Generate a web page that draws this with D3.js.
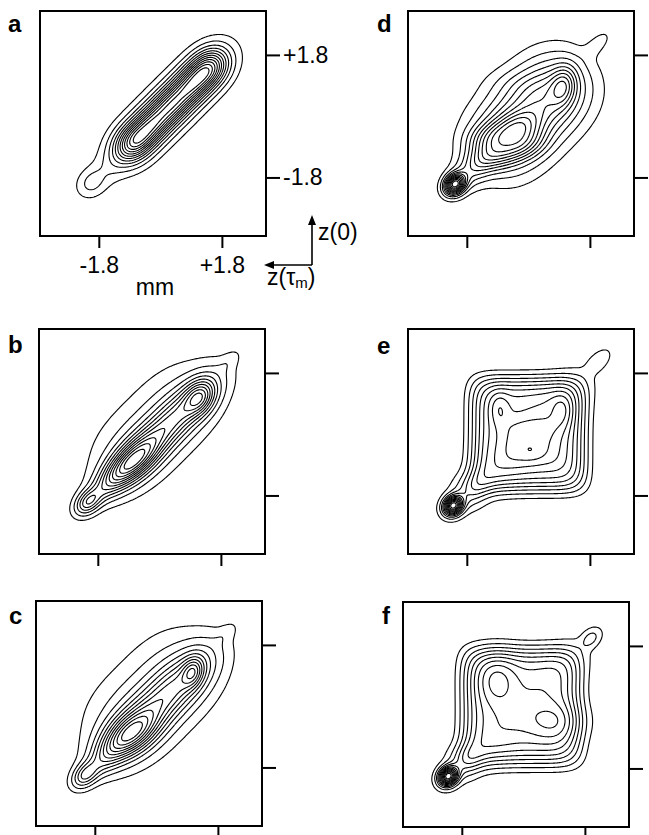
<!DOCTYPE html>
<html>
<head>
<meta charset="utf-8">
<script src="https://cdn.jsdelivr.net/npm/d3@7"></script>
<style>
  body { margin: 0; background: #fff; }
  svg { display: block; }
  text { font-family: "Liberation Sans", Arial, sans-serif; fill: #000; }
</style>
</head>
<body>
<div id="chart"></div>
<script>
// axis range (mm) shared by every panel, and the two marked positions
const axisDomain = [-3.52, 3.09];
const tickValues = [-1.8, 1.8];
const tickLabels = ["-1.8", "+1.8"];

// contour levels, as a fraction of each panel's peak
const levels = [0.05, 0.12, 0.2, 0.28, 0.36, 0.44, 0.52, 0.6, 0.68, 0.76, 0.84, 0.92];

// density peaks (mm):
// [x, y, sigma along, sigma across, angle deg, amplitude, power along, power across]
const peaksA = [
  [-0.78, -0.78, 0.45, 0.34, 45, 1.2, 2, 2],
  [-0.23, -0.23, 0.45, 0.34, 45, 1.0, 2, 2],
  [0.32, 0.32, 0.45, 0.34, 45, 1.0, 2, 2],
  [0.87, 0.87, 0.45, 0.34, 45, 1.0, 2, 2],
  [1.41, 1.41, 0.45, 0.34, 45, 1.2, 2, 2],
  [-2.03, -1.97, 0.3, 0.25, 45, 0.2, 2, 2],
  [-1.5, -1.5, 0.5, 0.3, 45, 0.12, 2, 2],
  [0.3, 0.3, 1.7, 0.55, 45, 0.12, 2, 2]
];
const peaksB = [
  [0.14, 0.14, 1.6, 0.36, 45, 0.34, 3, 2],
  [-0.1, 0.18, 1.7, 0.75, 45, 0.12, 3, 2],
  [-0.83, -0.86, 0.62, 0.3, 42, 0.33, 2, 2],
  [1.19, 1.09, 0.36, 0.27, 60, 0.25, 2, 2],
  [-1.5, -1.45, 0.5, 0.25, 45, 0.14, 2, 2],
  [-2.09, -2.0, 0.3, 0.2, 45, 0.26, 2, 2],
  [2.05, 2.15, 0.3, 0.15, 45, 0.04, 2, 2]
];
const peaksC = [
  [0.1, 0.1, 1.6, 0.42, 45, 0.35, 3, 2],
  [-0.1, 0.25, 1.7, 0.85, 45, 0.14, 3, 2],
  [-0.8, -0.86, 0.6, 0.35, 35, 0.33, 2, 2],
  [1.07, 1.01, 0.3, 0.2, 75, 0.22, 2, 2],
  [-1.5, -1.5, 0.5, 0.27, 45, 0.15, 2, 2],
  [-2.09, -2.03, 0.3, 0.2, 45, 0.24, 2, 2],
  [2.05, 2.15, 0.3, 0.15, 45, 0.04, 2, 2]
];
const peaksD = [
  [0.05, 0.05, 1.45, 0.7, 45, 0.5, 3, 2],
  [-0.64, -0.73, 0.8, 0.5, 20, 0.3, 3, 3],
  [1.03, 0.9, 0.4, 0.25, 80, 0.25, 2, 2],
  [-0.4, 0.95, 0.6, 0.3, 0, 0.04, 2, 2],
  [-1.6, -1.5, 0.55, 0.3, 45, 0.2, 2, 2],
  [-2.15, -2.0, 0.22, 0.18, 45, 0.75, 2, 2],
  [2.05, 2.15, 0.35, 0.17, 45, 0.06, 2, 2]
];
const peaksE = [
  [0.0, 0.0, 1.45, 1.45, 0, 0.6, 6, 6],
  [0.1, -0.2, 0.75, 0.6, 0, 0.1, 4, 4],
  [-0.85, 0.75, 0.35, 0.2, 90, 0.14, 2, 2],
  [1.0, 0.7, 0.35, 0.22, 90, 0.14, 2, 2],
  [0.11, -0.51, 0.25, 0.2, 0, 0.06, 2, 2],
  [-2.2, -2.1, 0.2, 0.17, 45, 1.0, 2, 2],
  [-1.65, -1.6, 0.4, 0.3, 45, 0.25, 2, 2],
  [2.05, 2.15, 0.3, 0.16, 45, 0.08, 2, 2],
  [0.0, 0.0, 2.1, 0.5, 45, 0.08, 2, 2]
];
const peaksF = [
  [-0.05, 0.02, 1.5, 1.5, 0, 0.55, 6, 6],
  [-0.78, 0.78, 0.55, 0.42, 90, 0.22, 2, 2],
  [0.92, -0.42, 0.6, 0.4, 0, 0.2, 2, 2],
  [-2.2, -2.03, 0.2, 0.17, 45, 1.0, 2, 2],
  [-1.7, -1.55, 0.35, 0.3, 45, 0.25, 2, 2],
  [1.97, 2.02, 0.22, 0.15, 45, 0.14, 2, 2],
  [0.0, 0.0, 2.1, 0.45, 45, 0.08, 2, 2]
];

const panelNames = ["a", "b", "c", "d", "e", "f"];
const panelPeaks = [peaksA, peaksB, peaksC, peaksD, peaksE, peaksF];

// layout (pixels)
const frameW = 226, frameH = 225;
const frameOrigin = [[40, 11], [39, 329], [36, 601], [408, 11], [408, 329], [403, 602]];
const letterPos = [[8, 32], [8, 353], [9, 624], [377, 32], [377, 354], [382, 624]];

const svg = d3.select("#chart").append("svg")
  .attr("width", 649)
  .attr("height", 835);

const x = d3.scaleLinear().domain(axisDomain).range([0, frameW]);
const y = d3.scaleLinear().domain(axisDomain).range([frameH, 0]);

const n = 220;
const gx = d3.scaleLinear().domain([0, n]).range(axisDomain);
const gy = d3.scaleLinear().domain([0, n]).range([axisDomain[1], axisDomain[0]]);

function density(peaks, px, py) {
  let s = 0;
  for (const [cx, cy, su, sv, ang, amp, pu, pv] of peaks) {
    const t = ang * Math.PI / 180, dx = px - cx, dy = py - cy;
    const u = (dx * Math.cos(t) + dy * Math.sin(t)) / su;
    const v = (-dx * Math.sin(t) + dy * Math.cos(t)) / sv;
    s += amp * Math.exp(-0.5 * (Math.pow(Math.abs(u), pu) + Math.pow(Math.abs(v), pv)));
  }
  return s;
}

const path = d3.geoPath(d3.geoTransform({
  point(px, py) { this.stream.point(x(gx(px)), y(gy(py))); }
}));

panelNames.forEach((name, k) => {
  const [ox, oy] = frameOrigin[k];
  const g = svg.append("g").attr("transform", `translate(${ox},${oy})`);

  const values = new Array(n * n);
  for (let j = 0; j < n; j++) {
    for (let i = 0; i < n; i++) {
      values[j * n + i] = density(panelPeaks[k], gx(i + 0.5), gy(j + 0.5));
    }
  }
  const peak = d3.max(values);
  const norm = values.map(v => v / peak);

  const contours = d3.contours().size([n, n]).thresholds(levels)(norm);

  g.append("g")
    .selectAll("path")
    .data(contours)
    .enter()
    .append("path")
    .attr("d", path)
    .attr("fill", "none")
    .attr("stroke", "#000")
    .attr("stroke-width", 1.1)
    .attr("stroke-linejoin", "round");

  g.append("rect")
    .attr("width", frameW)
    .attr("height", frameH)
    .attr("fill", "none")
    .attr("stroke", "#000")
    .attr("stroke-width", 2);

  const showLabels = k === 0;

  const right = g.append("g")
    .attr("transform", `translate(${frameW},0)`)
    .call(d3.axisRight(y).tickValues(tickValues).tickSize(14).tickPadding(3)
      .tickFormat((d, i) => showLabels ? tickLabels[i] : ""));
  const bottom = g.append("g")
    .attr("transform", `translate(0,${frameH})`)
    .call(d3.axisBottom(x).tickValues(tickValues).tickSize(12).tickPadding(9)
      .tickFormat((d, i) => showLabels ? tickLabels[i] : ""));

  [right, bottom].forEach(ax => {
    ax.select(".domain").remove();
    ax.selectAll("line").attr("stroke", "#000").attr("stroke-width", 2);
    ax.selectAll("text").attr("font-size", 23).attr("font-family", null).attr("fill", "#000");
  });

  svg.append("text")
    .attr("x", letterPos[k][0])
    .attr("y", letterPos[k][1])
    .attr("font-size", 24)
    .attr("font-weight", "bold")
    .text(name);
});

// unit and direction key next to panel a
svg.append("text")
  .attr("x", 155).attr("y", 295)
  .attr("text-anchor", "middle")
  .attr("font-size", 23)
  .text("mm");

const key = svg.append("g");
key.append("path")
  .attr("d", "M312,265 V222 M312,265 H272")
  .attr("fill", "none").attr("stroke", "#000").attr("stroke-width", 1.6);
key.append("path")
  .attr("d", "M312,215 L308,225 L316,225 Z M264,265 L274,261 L274,269 Z")
  .attr("fill", "#000");
key.append("text")
  .attr("x", 318).attr("y", 240)
  .attr("font-size", 23)
  .text("z(0)");
const zt = key.append("text")
  .attr("x", 267).attr("y", 285)
  .attr("font-size", 23);
zt.append("tspan").text("z(τ");
zt.append("tspan").attr("font-size", 15).attr("dy", 3).text("m");
zt.append("tspan").attr("dy", -3).text(")");
</script>
</body>
</html>
